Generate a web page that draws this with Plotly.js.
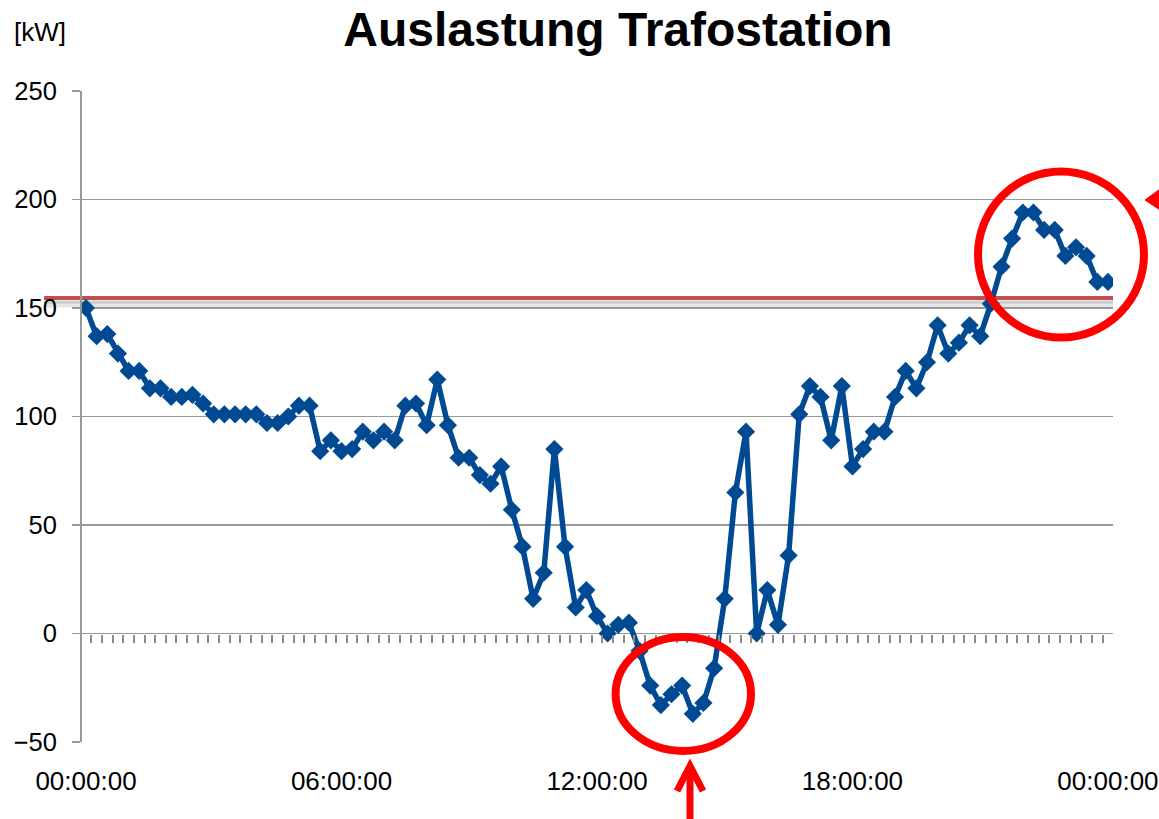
<!DOCTYPE html>
<html>
<head>
<meta charset="utf-8">
<script src="https://cdn.plot.ly/plotly-3.0.1.min.js"></script>
<style>html,body{margin:0;padding:0;background:#fff;}#chart{width:1159px;height:819px;}</style>
</head>
<body>
<div id="chart"></div>
<script>
// ---- data ----
const times = [
"00:00","00:15","00:30","00:45","01:00","01:15","01:30","01:45",
"02:00","02:15","02:30","02:45","03:00","03:15","03:30","03:45",
"04:00","04:15","04:30","04:45","05:00","05:15","05:30","05:45",
"06:00","06:15","06:30","06:45","07:00","07:15","07:30","07:45",
"08:00","08:15","08:30","08:45","09:00","09:15","09:30","09:45",
"10:00","10:15","10:30","10:45","11:00","11:15","11:30","11:45",
"12:00","12:15","12:30","12:45","13:00","13:15","13:30","13:45",
"14:00","14:15","14:30","14:45","15:00","15:15","15:30","15:45",
"16:00","16:15","16:30","16:45","17:00","17:15","17:30","17:45",
"18:00","18:15","18:30","18:45","19:00","19:15","19:30","19:45",
"20:00","20:15","20:30","20:45","21:00","21:15","21:30","21:45",
"22:00","22:15","22:30","22:45","23:00","23:15","23:30","23:45",
"24:00"];
const loadKW = [
150,137,138,129,121,121,113,113,
109,109,110,106,101,101,101,101,
101,97,97,100,105,105,84,89,
84,85,93,89,93,89,105,106,
96,117,96,81,81,73,69,77,
57,40,16,28,85,40,12,20,
8,0,4,5,-8,-24,-33,-28,
-24,-37,-32,-16,16,65,93,0,
20,4,36,101,114,109,89,114,
77,85,93,93,109,121,113,125,
142,129,134,142,137,152,169,182,
194,194,186,186,174,178,174,162,
162];
const limitKW = 154.6;
const yTickVals = [-50,0,50,100,150,200,250];
const xTickVals = ["2000-01-01 00:00","2000-01-01 06:00","2000-01-01 12:00","2000-01-01 18:00","2000-01-02 00:00"];
const xTickText = ["00:00:00","06:00:00","12:00:00","18:00:00","00:00:00"];

// ---- helpers ----
const toDate = t => t === "24:00" ? "2000-01-02 00:00" : "2000-01-01 " + t;
const xDates = times.map(toDate);
const L = 82, R = 1113, T = 91, B = 742, W = 1159, H = 819;
const px = x => (x - L) / (R - L);
const py = y => (B - y) / (B - T);
const xRange = ["1999-12-31 23:54:22", "2000-01-02 00:07:05"];
const fontFam = "Liberation Sans, Arial, sans-serif";
const grid = "#999999";
const red = "#ff0000";

const traces = [
  {
    x: xDates, y: loadKW, type: "scatter", mode: "lines+markers",
    line: {color: "#004a94", width: 5.5},
    marker: {symbol: "diamond", size: 14, color: "#004a94"},
    hoverinfo: "x+y", showlegend: false
  },
  { x: [], y: [], xaxis: "x2", yaxis: "y", type: "scatter", showlegend: false, hoverinfo: "skip" }
];

const shapes = [
  // limit line with soft shadow
  {type: "line", xref: "paper", yref: "y", x0: px(44), x1: 1, y0: limitKW - 3.2, y1: limitKW - 3.2,
   line: {color: "rgba(150,150,150,0.25)", width: 5}, layer: "below"},
  {type: "line", xref: "paper", yref: "y", x0: px(44), x1: 1, y0: limitKW - 1.8, y1: limitKW - 1.8,
   line: {color: "rgba(150,150,150,0.45)", width: 3}, layer: "below"},
  {type: "line", xref: "paper", yref: "y", x0: px(44), x1: 1, y0: limitKW, y1: limitKW,
   line: {color: "#c0504d", width: 4}, layer: "below"},
  // red circles
  {type: "circle", xref: "paper", yref: "paper", x0: px(615.6), x1: px(751), y0: py(751), y1: py(637),
   line: {color: red, width: 8}},
  {type: "circle", xref: "paper", yref: "paper", x0: px(978), x1: px(1144), y0: py(337.5), y1: py(171.5),
   line: {color: red, width: 8}},
  // bottom arrow
  {type: "path", xref: "paper", yref: "paper",
   path: `M ${px(690)} ${py(819)} L ${px(690)} ${py(766)}`, line: {color: red, width: 7}},
  {type: "path", xref: "paper", yref: "paper",
   path: `M ${px(677)} ${py(791)} L ${px(690)} ${py(766)} L ${px(703)} ${py(791)}`, line: {color: red, width: 7}},
  // arrow head at right edge
  {type: "path", xref: "paper", yref: "paper",
   path: `M ${px(1145)} ${py(200)} L ${px(1160)} ${py(189)} L ${px(1160)} ${py(210)} Z`,
   fillcolor: red, line: {color: red, width: 1}}
];

const layout = {
  width: W, height: H,
  margin: {l: L, r: W - R, t: T, b: H - B, pad: 0},
  paper_bgcolor: "#fff", plot_bgcolor: "#fff",
  font: {family: fontFam, size: 25, color: "#000"},
  title: {text: "<b>Auslastung Trafostation</b>", font: {family: fontFam, size: 48, color: "#000"},
          xref: "container", yref: "container", x: 618 / W, y: 1 - 29 / H, xanchor: "center", yanchor: "middle"},
  xaxis: {
    type: "date", range: xRange, tickvals: xTickVals, ticktext: xTickText,
    showgrid: false, showline: false, zeroline: false, ticks: "",
    ticklabelstandoff: 21, tickfont: {family: fontFam, size: 26, color: "#000"}
  },
  xaxis2: {
    type: "date", range: xRange, overlaying: "x", anchor: "free", position: 50 / 300, side: "bottom",
    tick0: "2000-01-01 00:07:30", dtick: 900000, ticks: "outside", ticklen: 8, tickwidth: 2,
    tickcolor: "#8c8c8c", showticklabels: false, showgrid: false, showline: false, zeroline: false
  },
  yaxis: {
    range: [-50, 250], tickvals: yTickVals, showgrid: true, gridcolor: grid, gridwidth: 1.6,
    showline: true, linecolor: grid, linewidth: 2, ticks: "outside", ticklen: 8, tickwidth: 1.6, tickcolor: grid,
    zeroline: false, ticklabelstandoff: 10, tickfont: {family: fontFam, size: 25.5, color: "#000"}
  },
  annotations: [
    {text: "[kW]", xref: "paper", yref: "paper", x: px(12), y: py(32), xanchor: "left", yanchor: "middle",
     showarrow: false, font: {family: fontFam, size: 26, color: "#000"}}
  ],
  shapes: shapes,
  showlegend: false
};

Plotly.newPlot("chart", traces, layout, {displayModeBar: false, staticPlot: true});
</script>
</body>
</html>
